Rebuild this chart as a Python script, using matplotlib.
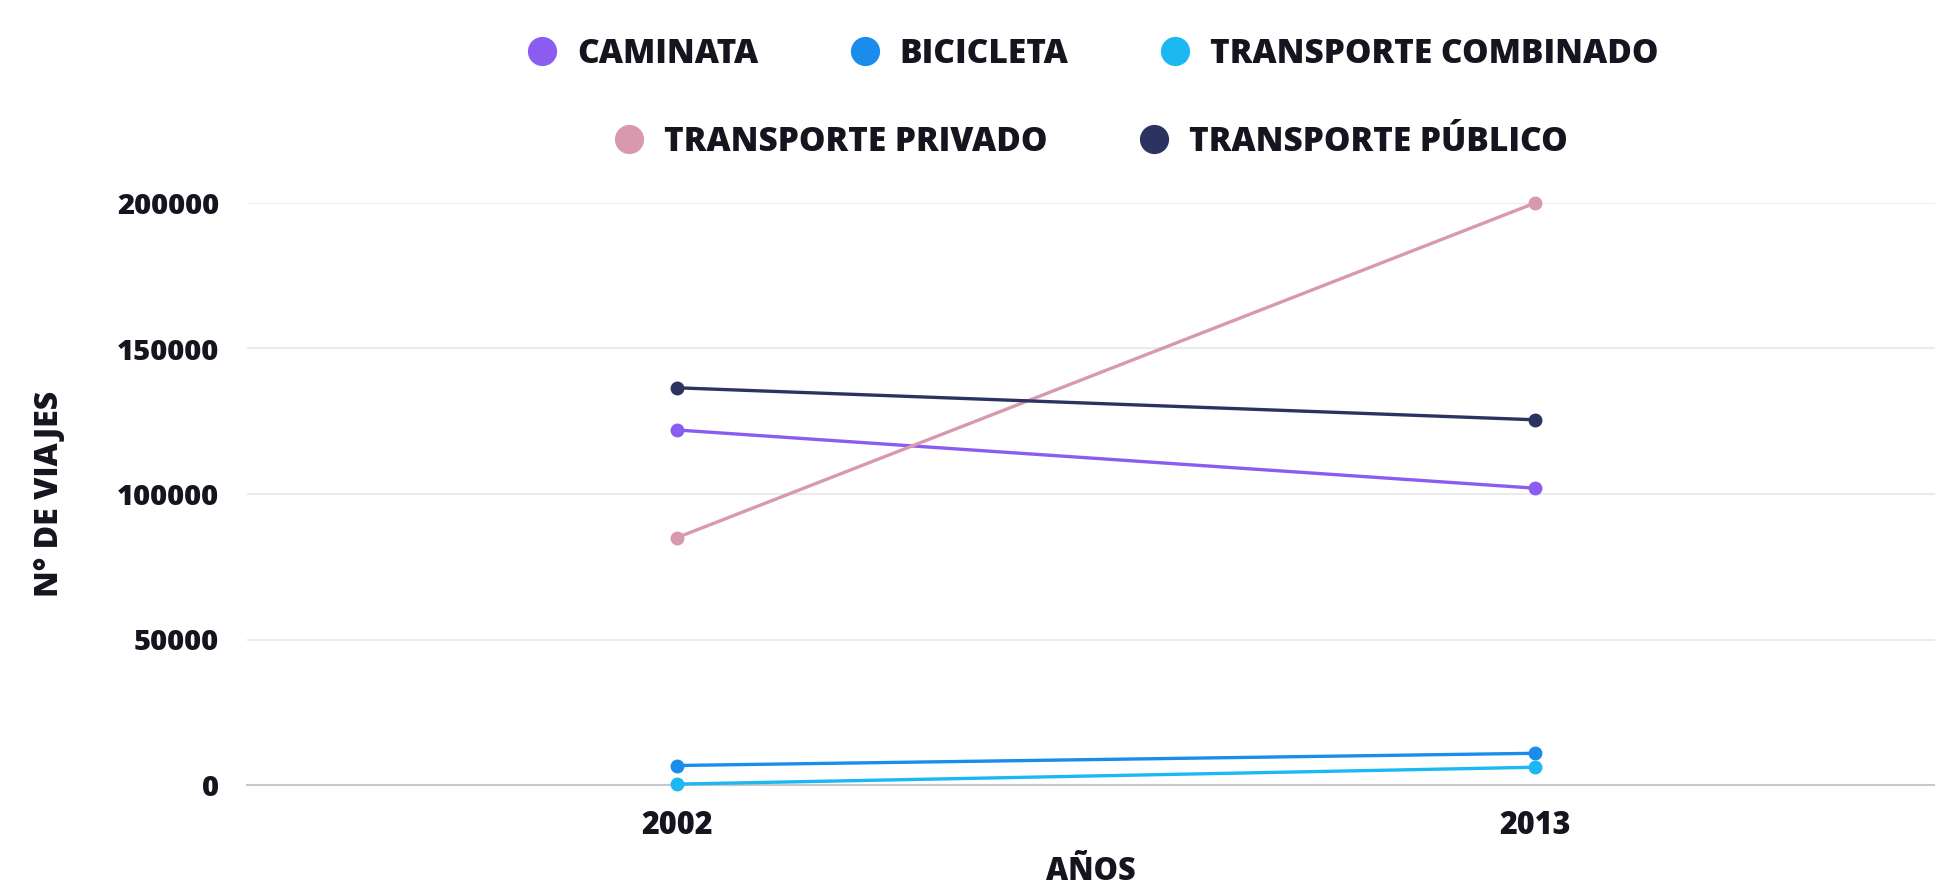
import matplotlib.pyplot as plt
from matplotlib.lines import Line2D

plt.rcParams['font.family'] = ['Open Sans', 'DejaVu Sans']
plt.rcParams['font.weight'] = 'heavy'
plt.rcParams['axes.labelweight'] = 'heavy'

# viajes por modo de transporte
anios = ['2002', '2013']
modos = ['CAMINATA', 'BICICLETA', 'TRANSPORTE COMBINADO',
         'TRANSPORTE PRIVADO', 'TRANSPORTE PÚBLICO']
caminata = [122000, 102000]
bicicleta = [6700, 10900]
combinado = [300, 6100]
privado = [85000, 200000]
publico = [136500, 125500]
colores = ['#8b5cf0', '#1a8cec', '#1cb8f2', '#d899ae', '#2c3360']

series = [caminata, bicicleta, combinado, privado, publico]
texto = '#15151f'

fig = plt.figure(figsize=(19.35, 8.86), dpi=100)
ax = fig.add_axes([247 / 1935, 1 - 785 / 886, 1 - 247 / 1935, (785 - 203) / 886])

x = range(len(anios))
lineas = []
for vals, col, nombre in zip(series, colores, modos):
    l, = ax.plot(x, vals, color=col, lw=2.4, marker='o', ms=9,
                 label=nombre, clip_on=False, zorder=3)
    lineas.append(l)

ax.set_xlim(-0.501, 1.466)
ax.set_ylim(0, 200000)
ax.set_xticks(list(x))
ax.set_xticklabels(anios)
ax.set_yticks([0, 50000, 100000, 150000, 200000])
ax.yaxis.grid(True, color='#ebebeb', lw=1.5)
ax.set_axisbelow(True)
for s in ['top', 'right', 'left']:
    ax.spines[s].set_visible(False)
ax.spines['bottom'].set_color('#c8c8cc')
ax.spines['bottom'].set_linewidth(1.5)
ax.tick_params(length=0, labelsize=21, labelcolor=texto)
ax.tick_params(axis='y', pad=20)
ax.tick_params(axis='x', pad=18, labelsize=22)

ax.set_ylabel('N° DE VIAJES', fontsize=23, color=texto, labelpad=37)
ax.set_xlabel('AÑOS', fontsize=22, color=texto, labelpad=10)

def marcas(idx):
    return [Line2D([], [], marker='o', ls='None', ms=20, color=colores[i],
                   label=modos[i]) for i in idx]

ley1 = fig.legend(handles=marcas([0, 1, 2]), ncol=3, loc='center',
                  bbox_to_anchor=(1092 / 1935, 1 - 54 / 886), frameon=False,
                  fontsize=24, columnspacing=2.7, handlelength=1.0,
                  handletextpad=0.55, labelcolor=texto)
ley2 = fig.legend(handles=marcas([3, 4]), ncol=2, loc='center',
                  bbox_to_anchor=(1090 / 1935, 1 - 142 / 886), frameon=False,
                  fontsize=24, columnspacing=2.7, handlelength=1.0,
                  handletextpad=0.55, labelcolor=texto)

fig.savefig('out.png', dpi=100)
